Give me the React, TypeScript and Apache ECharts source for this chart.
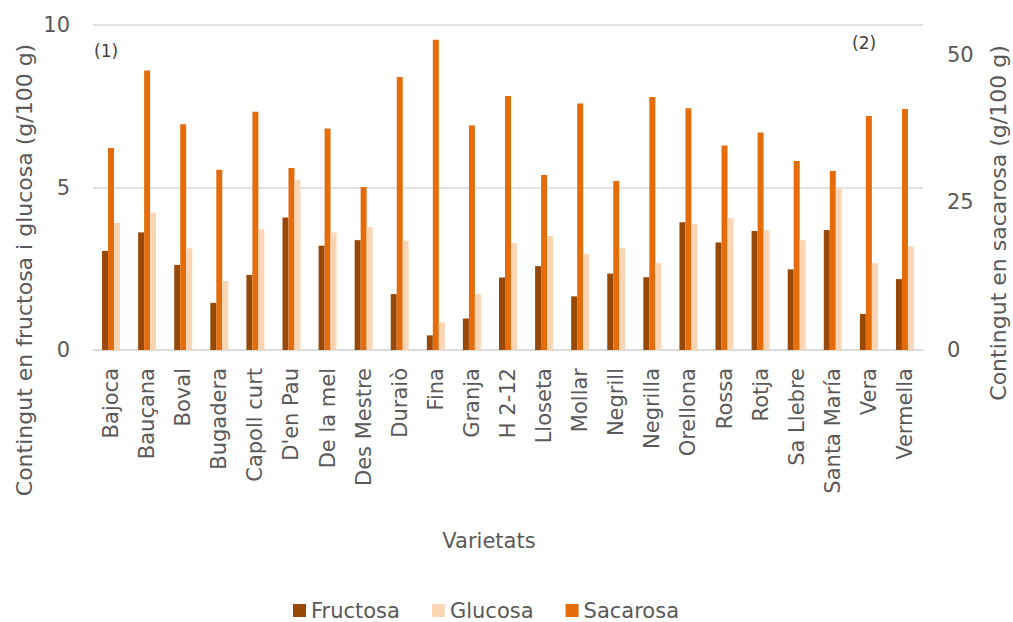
import React, { useEffect, useRef } from "react";
import * as echarts from "echarts";

// Varieties on the category axis
const varietats = [
  "Bajoca", "Bauçana", "Boval", "Bugadera", "Capoll curt", "D'en Pau", "De la mel",
  "Des Mestre", "Duraiò", "Fina", "Granja", "H 2-12", "Lloseta", "Mollar", "Negrill",
  "Negrilla", "Orellona", "Rossa", "Rotja", "Sa Llebre", "Santa María", "Vera", "Vermella",
];

// g/100 g, left axis
const fructosa = [
  3.05, 3.62, 2.62, 1.45, 2.31, 4.08, 3.21, 3.38, 1.72, 0.45, 0.97, 2.23, 2.58, 1.65,
  2.35, 2.24, 3.93, 3.31, 3.66, 2.48, 3.69, 1.11, 2.18,
];
const glucosa = [
  3.91, 4.22, 3.13, 2.12, 3.72, 5.23, 3.62, 3.78, 3.36, 0.85, 1.73, 3.29, 3.51, 2.95,
  3.13, 2.67, 3.88, 4.06, 3.69, 3.38, 4.97, 2.67, 3.19,
];
// g/100 g, right axis
const sacarosa = [
  34.2, 47.3, 38.2, 30.5, 40.3, 30.8, 37.5, 27.6, 46.2, 52.5, 38.0, 43.0, 29.6, 41.7,
  28.6, 42.8, 40.9, 34.6, 36.8, 32.0, 30.3, 39.6, 40.8,
];

const leftTicks = { min: 0, max: 10, interval: 5 };
const rightTicks = { min: 0, max: 55, interval: 25 };

const FONT = "DejaVu Sans";
const GREY = "#595959";

export default function App() {
  const ref = useRef<HTMLDivElement>(null);

  useEffect(() => {
    if (!ref.current) return;
    const chart = echarts.init(ref.current, undefined, { renderer: "svg" });
    chart.setOption({
      animation: false,
      textStyle: { fontFamily: FONT, color: GREY },
      grid: { left: 93, right: 90, top: 25, bottom: 272, containLabel: false },
      legend: {
        data: ["Fructosa", "Glucosa", "Sacarosa"],
        left: 288,
        top: 595,
        itemWidth: 13,
        itemHeight: 13,
        itemGap: 32,
        icon: "rect",
        textStyle: { fontFamily: FONT, fontSize: 21, color: GREY },
      },
      xAxis: {
        type: "category",
        data: varietats,
        axisLine: { show: true, lineStyle: { color: "#d9d9d9", width: 1.5 } },
        axisTick: { show: false },
        axisLabel: {
          rotate: 90,
          interval: 0,
          margin: 18,
          fontFamily: FONT,
          fontSize: 21,
          color: GREY,
        },
      },
      yAxis: [
        {
          type: "value",
          ...leftTicks,
          axisLine: { show: false },
          axisTick: { show: false },
          splitLine: { lineStyle: { color: "#d9d9d9", width: 1.5 } },
          axisLabel: { margin: 23, fontFamily: FONT, fontSize: 21, color: GREY },
        },
        {
          type: "value",
          ...rightTicks,
          position: "right",
          axisLine: { show: false },
          axisTick: { show: false },
          splitLine: { show: false },
          axisLabel: {
            margin: 24,
            showMaxLabel: false,
            fontFamily: FONT,
            fontSize: 21,
            color: GREY,
          },
        },
      ],
      series: [
        {
          name: "Fructosa",
          type: "bar",
          yAxisIndex: 0,
          data: fructosa,
          barWidth: 6,
          barGap: "0%",
          itemStyle: { color: "#984807" },
        },
        {
          name: "Sacarosa",
          type: "bar",
          yAxisIndex: 1,
          data: sacarosa,
          barWidth: 6,
          barGap: "0%",
          itemStyle: { color: "#E46C0A" },
        },
        {
          name: "Glucosa",
          type: "bar",
          yAxisIndex: 0,
          data: glucosa,
          barWidth: 6,
          barGap: "0%",
          itemStyle: { color: "#FCD5B5" },
        },
      ],
      graphic: [
        {
          type: "text",
          x: 24,
          y: 270,
          rotation: Math.PI / 2,
          style: {
            text: "Contingut en fructosa i glucosa (g/100 g)",
            fontFamily: FONT,
            fontSize: 22,
            fill: GREY,
            align: "center",
            verticalAlign: "middle",
          },
        },
        {
          type: "text",
          x: 998,
          y: 223,
          rotation: Math.PI / 2,
          style: {
            text: "Contingut en sacarosa (g/100 g)",
            fontFamily: FONT,
            fontSize: 22,
            fill: GREY,
            align: "center",
            verticalAlign: "middle",
          },
        },
        {
          type: "text",
          x: 489,
          y: 541,
          style: {
            text: "Varietats",
            fontFamily: FONT,
            fontSize: 21,
            fill: GREY,
            align: "center",
            verticalAlign: "middle",
          },
        },
        {
          type: "text",
          x: 94,
          y: 51,
          style: {
            text: "(1)",
            fontFamily: FONT,
            fontSize: 17,
            fill: "#404040",
            align: "left",
            verticalAlign: "middle",
          },
        },
        {
          type: "text",
          x: 852,
          y: 43,
          style: {
            text: "(2)",
            fontFamily: FONT,
            fontSize: 17,
            fill: "#404040",
            align: "left",
            verticalAlign: "middle",
          },
        },
      ],
    });
    return () => chart.dispose();
  }, []);

  return (
    <div
      ref={ref}
      style={{ position: "fixed", left: 0, top: 0, width: 1013, height: 622, background: "#fff" }}
    />
  );
}
